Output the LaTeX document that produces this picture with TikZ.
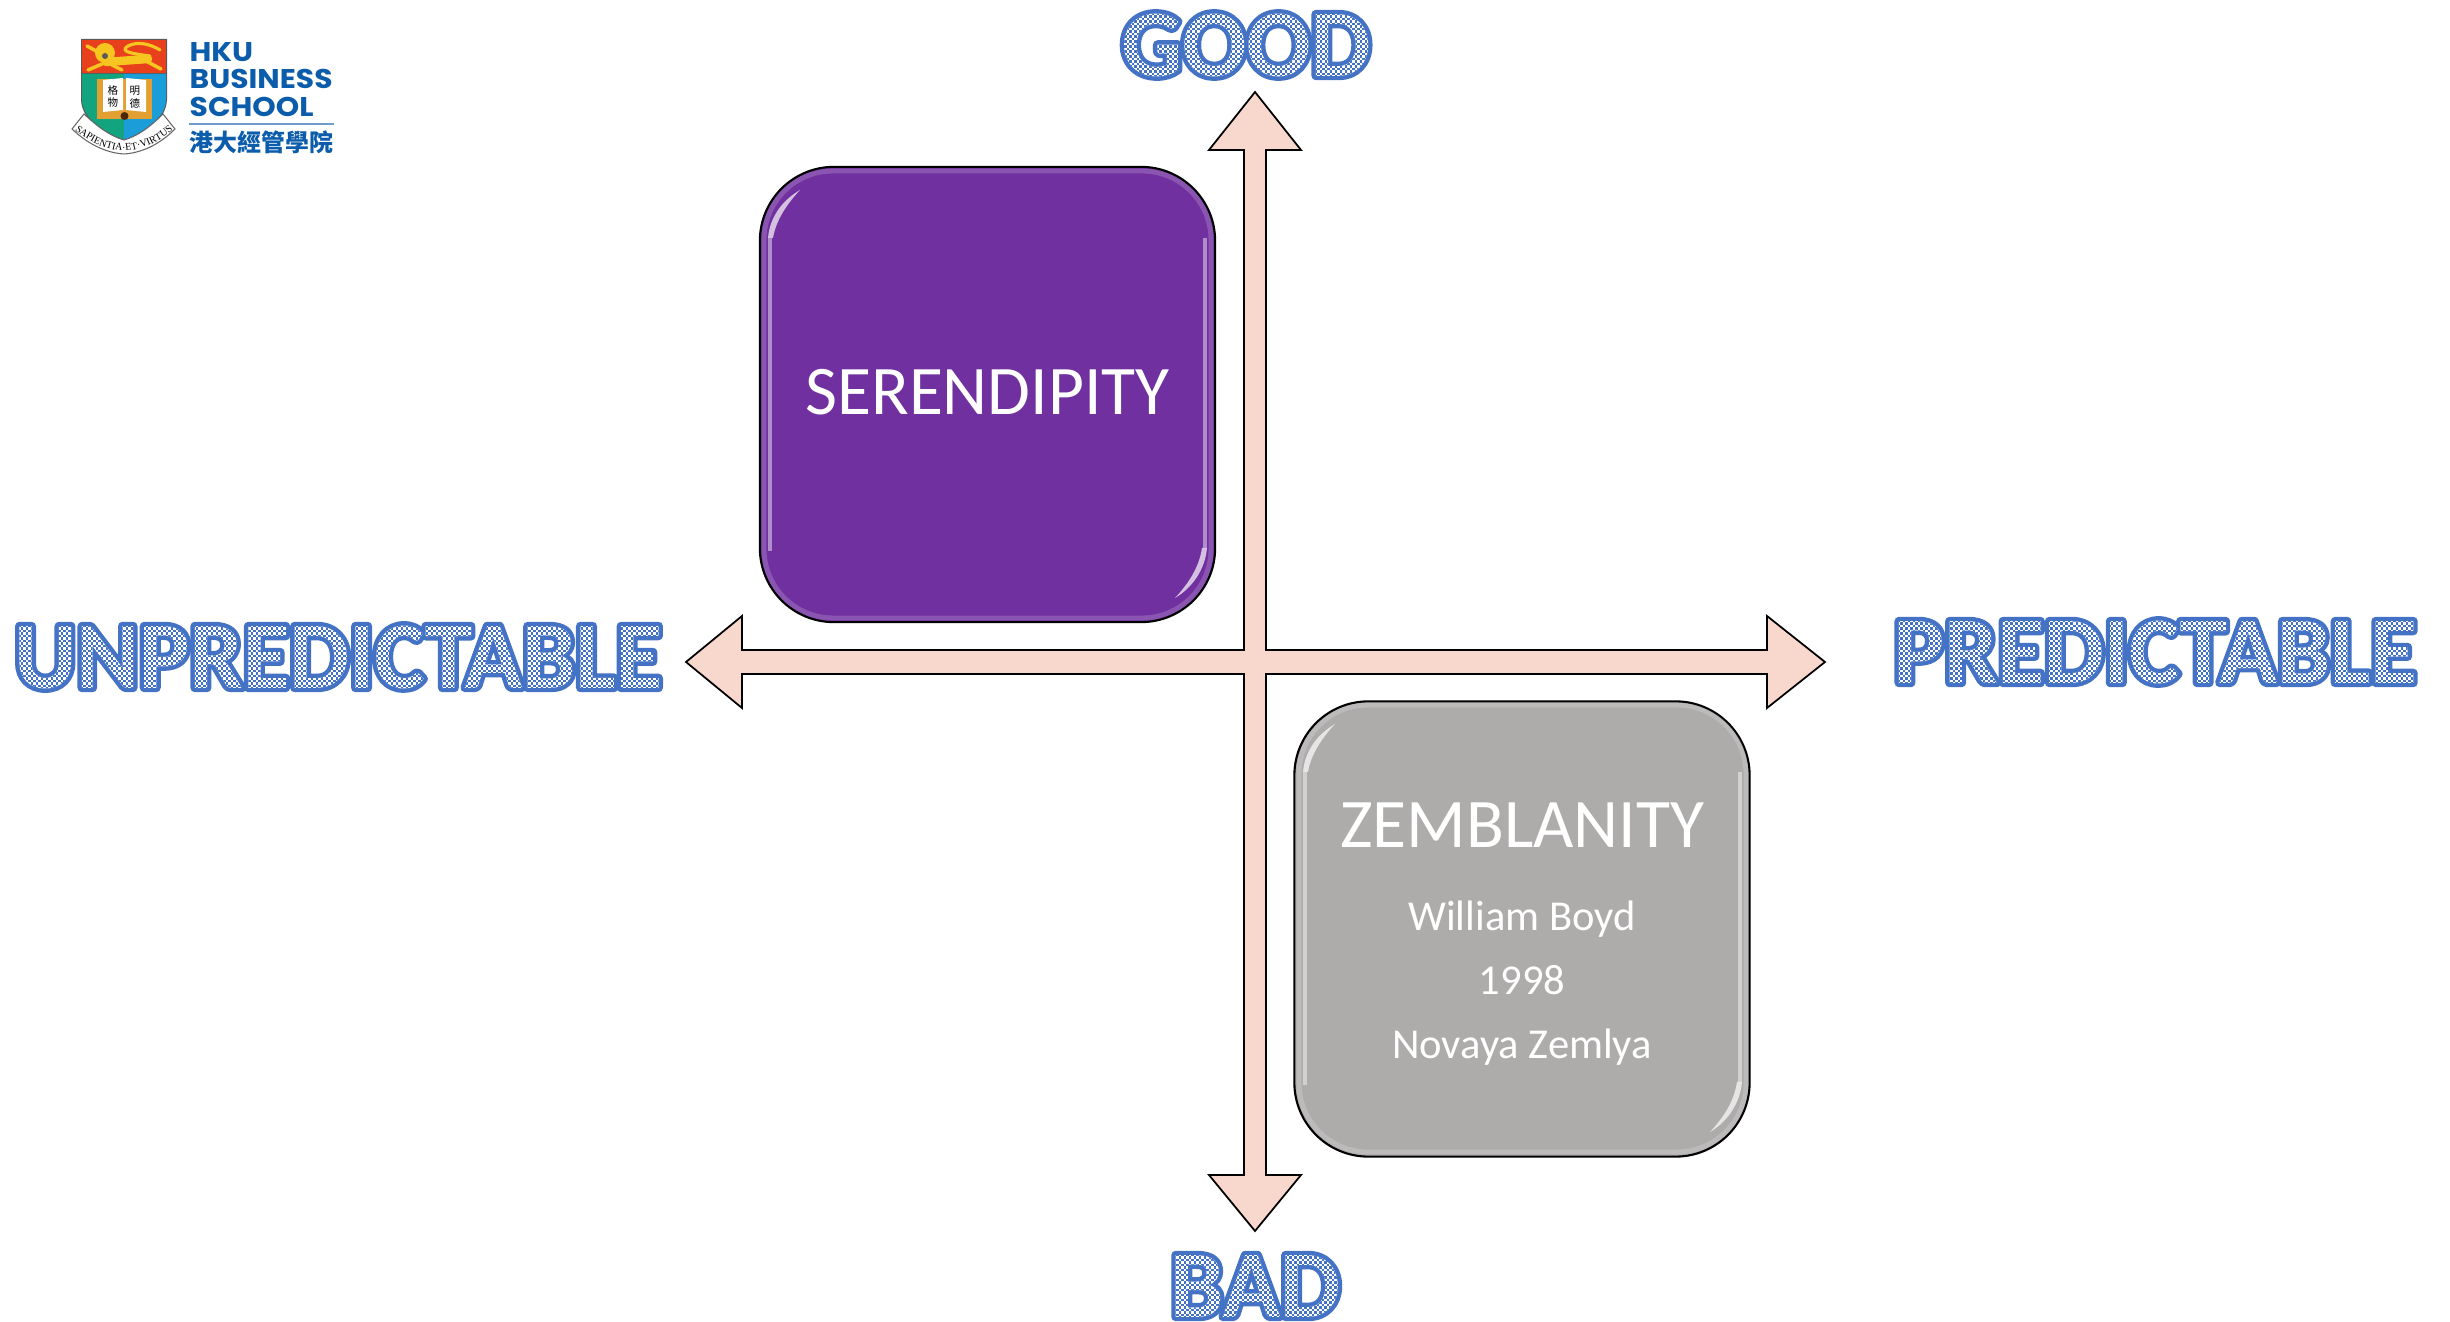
\documentclass[tikz,border=0pt]{standalone}
\usepackage{fontspec}
\setmainfont{Carlito}
\newfontfamily\logofont[FakeStretch=1.1]{Poppins}
\newfontfamily\mottofont{Liberation Serif}
\newfontfamily\cjkfont{Noto Sans CJK TC}
\usetikzlibrary{decorations.text}
\definecolor{arrowfill}{HTML}{F8D7CD}
\definecolor{serenfill}{HTML}{7030A0}
\definecolor{zembfill}{HTML}{AEABAB}
\definecolor{hkublue}{HTML}{0B5CAB}
% rows of dashes that make the checker inside the letters
\gdef\checkerrows{}
\foreach \row in {0,...,55} {
    \pgfmathsetmacro{\rowy}{-8+\row*0.7087}
    \pgfmathsetmacro{\rowphase}{mod(\row,2)*0.7087}
    \xdef\checkerrows{\checkerrows [0.7087 0.7087] \rowphase\space d -300 \rowy\space m 10 \rowy\space l S }
}
% outlined letters: stroke them, clip to them, then paint the checker
\newcommand{\outlined}[1]{\special{pdf:code q 5 Tr 2.5 w 1 j 0.267 0.447 0.769 RG}#1%
    \special{pdf:content 1 1 1 rg -300 -8 310 40 re f 0.267 0.447 0.769 RG 0.7087 w \checkerrows}%
    \special{pdf:code Q}}
\tikzset{
    quadbox/.style={draw=black, line width=0.6pt, rounded corners=0.74cm, minimum size=4.55cm, inner sep=0pt, text=white, align=center},
    axislabel/.style={inner sep=0pt, font=\fontsize{27}{30}\selectfont\bfseries},
    logoline/.style={inner sep=0pt, anchor=west, text=hkublue, font=\fontsize{7.7}{8}\selectfont\logofont\bfseries},
    bookchar/.style={inner sep=0pt, font=\fontsize{3}{3}\selectfont\cjkfont},
    lionline/.style={draw={rgb,255:red,247;green,197;blue,32}, line cap=round, line join=round}
}
\begin{document}
\begin{tikzpicture}[x=0.01cm, y=-0.01cm]
    \useasboundingbox (0,0) rectangle (2450,1322);

    % The two axes drawn as one outline, so that no line runs through the crossing
    \draw[fill=arrowfill, line width=0.5pt, line join=miter]
        (1255,92) -- (1301,150) -- (1266,150) -- (1266,650) -- (1767,650) -- (1767,616)
        -- (1825,662) -- (1767,708) -- (1767,674) -- (1266,674) -- (1266,1175) -- (1301,1175)
        -- (1255,1231) -- (1209,1175) -- (1244,1175) -- (1244,674) -- (742,674) -- (742,708)
        -- (686,662) -- (742,616) -- (742,650) -- (1244,650) -- (1244,150) -- (1209,150) -- cycle;

    % The two filled quadrants
    \node[quadbox, fill=serenfill] (seren) at (987.5,394.5) {\fontsize{19.8}{25}\selectfont\rule[-1.7pt]{0pt}{0pt}SERENDIPITY};
    \node[quadbox, fill=zembfill] (zemb) at (1522,929) {\fontsize{19.8}{25}\selectfont\rule{0pt}{15.6pt}ZEMBLANITY\\[11.6pt]
        \fontsize{12.1}{18.1}\selectfont William Boyd\\[6.1pt]
        \fontsize{12.1}{18.1}\selectfont 1998\\[6.1pt]
        \fontsize{12.1}{18.1}\selectfont Novaya Zemlya};

    % Glossy rim of each quadrant
    \foreach \bx/\by in {759/166, 1294/700} {
        \draw[white, opacity=0.18, line width=1.4pt, rounded corners=0.69cm] (\bx+5,\by+5) rectangle (\bx+452,\by+452);
        \draw[white, opacity=0.45, line width=1.2pt] (\bx+11,\by+72) -- (\bx+11,\by+385);
        \draw[white, opacity=0.45, line width=1.2pt] (\bx+446,\by+72) -- (\bx+446,\by+382);
        \fill[white, opacity=0.7] (\bx+9,\by+72) .. controls (\bx+11,\by+50) and (\bx+24,\by+34) .. (\bx+41,\by+24)
            .. controls (\bx+28,\by+38) and (\bx+17,\by+54) .. (\bx+14,\by+72) -- cycle;
        \fill[white, opacity=0.7] (\bx+448,\by+382) .. controls (\bx+446,\by+404) and (\bx+433,\by+422) .. (\bx+416,\by+432)
            .. controls (\bx+429,\by+418) and (\bx+440,\by+402) .. (\bx+443,\by+382) -- cycle;
    }

    % Axis labels
    \node[axislabel] (good) at (1246,45) {\outlined{GOOD}};
    \node[axislabel] (bad) at (1255,1286) {\outlined{BAD}};
    \node[axislabel] (unpred) at (338,657) {\outlined{UNPREDICTABLE}};
    \node[axislabel] (pred) at (2155,652) {\outlined{PREDICTABLE}};

    % Logo: the shield
    \fill[fill=black!65] (81,39) -- (167,39) -- (167,100) .. controls (166,120) and (145,134) .. (124,142)
        .. controls (103,134) and (82,120) .. (81,100) -- cycle;
    \fill[fill={rgb,255:red,18;green,163;blue,127}] (82,74) -- (124,74) -- (124,140) .. controls (104,132) and (83,119) .. (82,100) -- cycle;
    \fill[fill={rgb,255:red,27;green,157;blue,217}] (124,74) -- (166,74) -- (166,100) .. controls (165,119) and (144,132) .. (124,140) -- cycle;
    \fill[fill={rgb,255:red,232;green,64;blue,28}] (82,40) rectangle (166,73);
    % Logo: the lion
    \draw[lionline, line width=2.4pt] (106,62) -- (148,59);
    \draw[lionline, line width=1pt] (102,64) -- (88,70);
    \draw[lionline, line width=1pt] (98,52) -- (87,46);
    \draw[lionline, line width=1pt] (112,65) -- (122,70);
    \draw[lionline, line width=1pt] (146,61) -- (161,69);
    \draw[lionline, line width=0.9pt] (150,56) .. controls (135,54) and (118,52) .. (128,46) .. controls (138,41) and (150,44) .. (160,50);
    \fill[fill={rgb,255:red,247;green,197;blue,32}] (105,53) circle (10);
    \fill[fill=black!65] (105,56) circle (3);
    % Logo: the open book
    \fill[fill={rgb,255:red,226;green,160;blue,50}] (97,79) -- (152,79) -- (152,119) -- (97,119) -- cycle;
    \fill[fill=white] (103,80) -- (123,78) -- (123,110) -- (103,112) -- cycle;
    \fill[fill=white] (126,78) -- (146,80) -- (146,112) -- (126,110) -- cycle;
    \fill[fill=black!70!orange] (124.5,116) circle (4);
    \node[bookchar] (ge) at (113,91) {格};
    \node[bookchar] (wu) at (113,103) {物};
    \node[bookchar] (ming) at (135,91) {明};
    \node[bookchar] (de) at (135,103) {德};
    % Logo: the motto ribbon
    \draw[fill=white, line width=0.3pt, draw=black!60] (84,114) -- (72,129) .. controls (90,146) and (108,153) .. (124,154)
        .. controls (140,153) and (158,146) .. (175,129) -- (163,114) .. controls (150,127) and (138,136) .. (124,140)
        .. controls (110,136) and (98,127) .. (84,114) -- cycle;
    \path[postaction={decorate, decoration={text along path, text align=center,
        text={|\fontsize{2.9}{4}\selectfont\mottofont|SAPIENTIA·ET·VIRTUS}}}]
        (76,131) .. controls (92,144) and (108,150) .. (124,151) .. controls (140,150) and (156,144) .. (172,131);

    % Logo: the wordmark
    \node[logoline] (hku) at (189,52) {HKU};
    \node[logoline] (business) at (189,79) {BUSINESS};
    \node[logoline] (school) at (189,107) {SCHOOL};
    \coordinate (ruleL) at (189,124);
    \coordinate (ruleR) at (334,124);
    \draw[draw=hkublue!60, line width=0.3pt] (ruleL) -- (ruleR);
    \node[inner sep=0pt, anchor=west, text=hkublue, font=\fontsize{6.8}{8}\selectfont\cjkfont\bfseries] (cjkname) at (189,142) {港大經管學院};

\end{tikzpicture}
\end{document}
